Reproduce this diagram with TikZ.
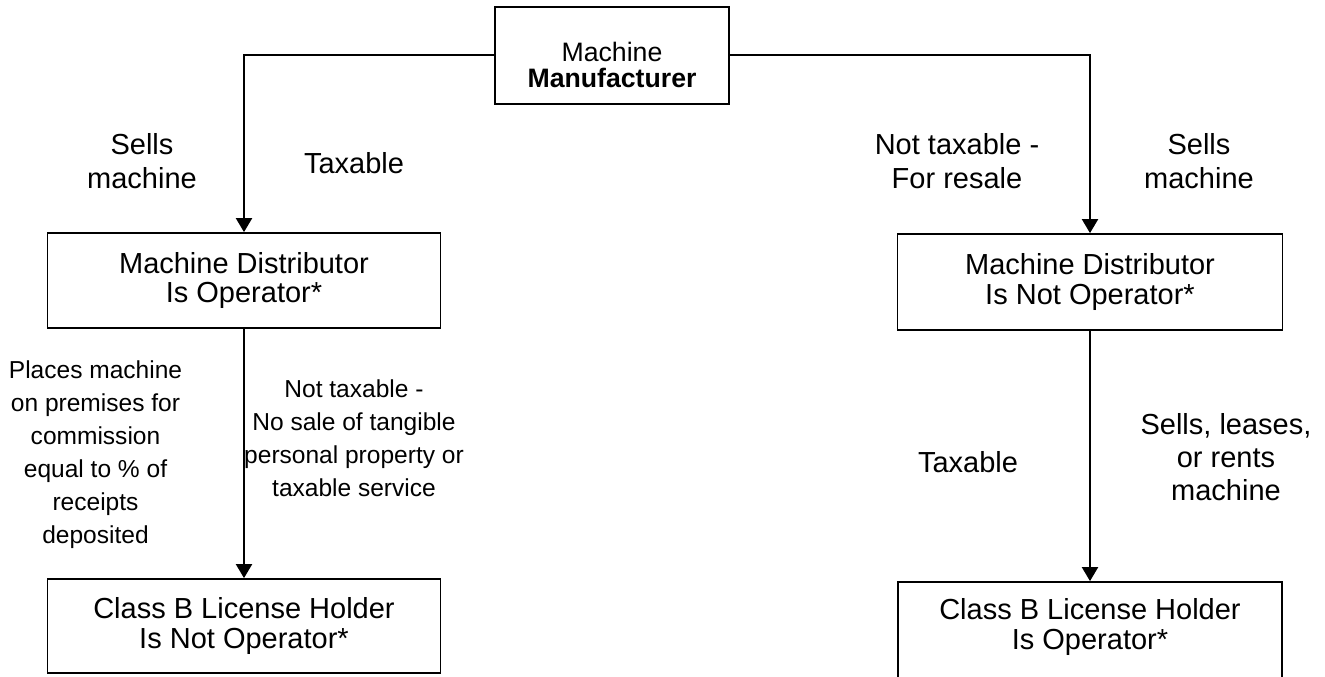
\documentclass[tikz,border=0pt]{standalone}
\usepackage{fontspec}
\setmainfont{Liberation Sans}
\usetikzlibrary{arrows.meta}
\begin{document}
\begin{tikzpicture}[x=0.75pt,y=-0.75pt,
  box/.style={draw, line width=1.3pt, align=center, inner sep=0pt, font=\fontsize{21.75}{22}\selectfont},
  lbl/.style={align=center, inner sep=0pt, font=\fontsize{21.75}{25}\selectfont},
  slbl/.style={align=center, inner sep=0pt, font=\fontsize{18.4}{24.75}\selectfont},
  conn/.style={line width=1.5pt, -{Triangle[length=10.5pt,width=12pt]}}]
\useasboundingbox (0,0) rectangle (1325,677);
\node[box, minimum width=175.5pt, minimum height=72.75pt] (top) at (612,55.5) {};
\node[lbl, font=\fontsize{20}{19.2}\selectfont] (toptxt) at (612,65) {Machine\\\textbf{Manufacturer}};
\node[box, minimum width=294.75pt, minimum height=71.25pt] (ld) at (244,280.5) {Machine Distributor\\Is Operator*};
\node[box, minimum width=288.75pt, minimum height=72pt] (rd) at (1090,282) {Machine Distributor\\Is Not Operator*};
\node[box, minimum width=294.75pt, minimum height=70.5pt] (lb) at (244,626) {Class B License Holder\\Is Not Operator*};
\node[box, minimum width=288pt, minimum height=88.5pt] (rb) at (1090,641) {};
\node[lbl, font=\fontsize{21.75}{22}\selectfont] (rbt) at (1090,627) {Class B License Holder\\Is Operator*};
\draw[conn] (top.west) -| (ld.north);
\draw[conn] (top.east) -| (rd.north);
\draw[conn] (ld.south) -- (lb.north);
\draw[conn] (rd.south) -- (rb.north);
\node[lbl] (l1) at (142,161) {Sells\\machine};
\node[lbl] (l2) at (354,163) {Taxable};
\node[lbl] (l3) at (957,161) {Not taxable -\\For resale};
\node[lbl] (l4) at (1199,161) {Sells\\machine};
\node[slbl] (l5) at (95.5,455) {Places machine\\on premises for\\commission\\equal to \% of\\receipts\\deposited};
\node[slbl] (l6) at (354,438) {Not taxable -\\No sale of tangible\\personal property or\\taxable service};
\node[lbl] (l7) at (968,462) {Taxable};
\node[lbl] (l8) at (1226,457) {Sells, leases,\\or rents\\machine};
\end{tikzpicture}
\end{document}
